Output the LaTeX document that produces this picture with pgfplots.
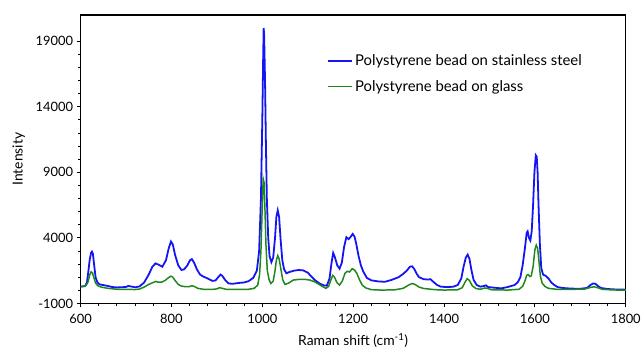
\documentclass[border=0pt]{standalone}
\usepackage{pgfplots}
\pgfplotsset{compat=1.18}
\usepackage{fontspec}
\setmainfont{Lato}
\definecolor{bl}{RGB}{20,20,245}
\definecolor{gr}{RGB}{30,135,30}
\begin{document}
\begin{tikzpicture}
\begin{axis}[
  at={(0,0)}, anchor=south west,
  scale only axis, width=548bp, height=290bp,
  xmin=600, xmax=1800, ymin=-1000, ymax=21000,
  xtick={600,800,...,1800}, ytick={-1000,4000,9000,14000,19000},
  scaled y ticks=false, scaled x ticks=false,
  minor x tick num=4, minor y tick num=4,
  tick align=outside, xtick pos=bottom, ytick pos=left,
  major tick length=4bp, minor tick length=2.8bp,
  every tick/.style={black, line width=0.9bp},
  axis line style={black, line width=1.2bp},
  /pgf/number format/1000 sep={},
  /pgf/number format/assume math mode=true,
  tick label style={font=\fontsize{13}{15}\selectfont},
  xticklabel style={yshift=-3bp},
  label style={font=\fontsize{14}{16}\selectfont},
  xlabel={Raman shift (cm\textsuperscript{-1})},
  ylabel={Intensity},
  xlabel style={yshift=-3bp},
  ylabel style={yshift=4bp},
  legend style={draw=none, fill=none, at={(0.4526,0.862)}, anchor=north west,
    font=\fontsize{15}{17}\selectfont, row sep=13bp, legend cell align=left,
    inner sep=0pt, nodes={inner xsep=2bp, inner ysep=0pt}},
  legend image code/.code={\draw[#1] (0bp,0bp) -- (24bp,0bp);},
]
\addplot[bl, line width=1.8bp] table {
600 280
605 300
610 330
614 600
617 1400
620 2300
623 2850
625 2950
627 2800
630 1900
633 1000
637 600
642 450
650 400
660 330
670 250
680 220
690 230
700 260
705 330
710 300
720 230
730 300
740 600
750 1200
758 1800
765 2050
772 1950
780 1800
788 2300
794 3200
799 3720
803 3500
808 2700
815 1900
822 1550
828 1600
835 1900
841 2300
845 2380
850 2100
856 1600
863 1200
870 1050
880 900
890 720
897 750
903 1000
908 1200
912 1100
918 800
926 520
935 500
948 560
960 600
970 700
980 950
988 1500
993 3000
997 7000
1000 13000
1002 18000
1003 20000
1004 19500
1006 16000
1008 11000
1010 7000
1013 4000
1016 2600
1020 2150
1024 2500
1028 4000
1031 5600
1034 6100
1037 5600
1040 4000
1044 2300
1048 1600
1053 1300
1060 1400
1070 1500
1080 1550
1090 1520
1100 1350
1108 1050
1115 800
1126 520
1135 380
1142 350
1148 900
1152 2000
1156 2850
1160 2500
1165 1900
1170 1650
1175 2100
1180 3300
1185 4050
1190 3900
1195 4100
1199 4300
1203 4100
1207 3500
1212 2600
1217 1900
1222 1450
1230 950
1240 760
1255 680
1270 650
1285 800
1300 1000
1310 1250
1318 1500
1325 1800
1330 1830
1335 1600
1340 1250
1345 1000
1355 850
1365 820
1370 850
1378 600
1385 400
1393 280
1405 250
1420 270
1430 400
1438 900
1443 1800
1448 2500
1452 2720
1456 2400
1460 1600
1465 800
1472 400
1480 280
1488 330
1492 380
1497 250
1510 200
1526 150
1540 250
1555 400
1562 600
1568 1000
1573 1900
1578 3200
1582 4400
1584 4500
1587 4000
1590 3800
1593 4500
1596 6500
1599 9000
1602 10300
1604 10200
1606 9000
1608 6500
1611 3500
1614 1700
1618 1200
1624 1100
1630 900
1636 600
1642 420
1650 250
1660 180
1680 130
1700 120
1715 180
1722 400
1728 520
1733 500
1738 350
1745 180
1760 100
1780 60
1800 50
};
\addlegendentry{Polystyrene bead on stainless steel}
\addplot[gr, line width=1.5bp] table {
600 280
606 300
612 380
616 600
620 1150
623 1400
626 1350
629 1000
633 550
638 350
645 250
660 150
680 80
700 70
720 60
730 100
740 250
750 450
760 600
766 680
770 620
778 620
786 750
793 950
799 1080
803 1000
808 750
815 450
822 320
830 280
840 290
845 350
850 300
858 150
870 80
890 70
900 110
906 200
912 150
920 80
950 70
970 80
982 150
990 400
994 1200
997 3000
1000 6500
1002 8500
1004 8200
1006 6000
1008 3500
1011 1500
1015 800
1019 520
1024 700
1028 1500
1031 2300
1034 2650
1037 2400
1041 1600
1045 800
1050 450
1058 550
1068 780
1080 830
1095 830
1105 780
1115 650
1125 450
1132 300
1140 150
1146 300
1150 700
1155 1140
1159 1000
1164 600
1170 400
1176 700
1182 1300
1187 1450
1192 1400
1198 1650
1203 1550
1208 1300
1214 800
1220 400
1228 180
1240 50
1260 20
1290 30
1310 150
1322 400
1330 520
1336 450
1345 250
1355 140
1380 50
1400 20
1430 40
1440 200
1446 600
1451 890
1456 750
1462 350
1470 140
1480 80
1490 180
1495 150
1505 40
1540 20
1565 80
1573 300
1578 700
1582 1150
1585 1200
1589 1050
1592 1100
1596 1800
1600 3100
1603 3450
1606 3200
1609 2200
1612 1100
1616 550
1622 300
1630 150
1650 70
1680 70
1710 100
1722 220
1730 270
1738 200
1748 80
1770 30
1800 10
};
\addlegendentry{Polystyrene bead on glass}
\end{axis}
\useasboundingbox (-81bp,-44bp) rectangle (563bp,305bp);
\end{tikzpicture}
\end{document}
